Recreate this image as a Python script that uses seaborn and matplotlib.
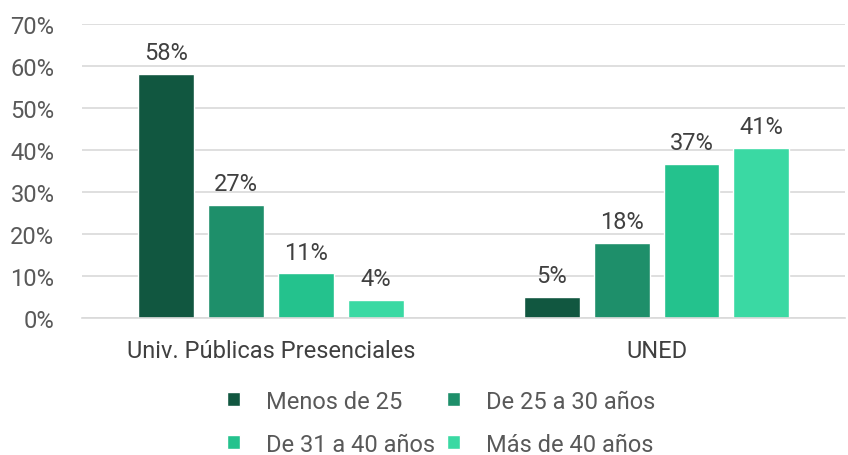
import pandas as pd
import matplotlib
matplotlib.use('Agg')
import matplotlib.pyplot as plt
import seaborn as sns

categorias = ['Univ. Públicas Presenciales', 'UNED']
edades = ['Menos de 25', 'De 25 a 30 años', 'De 31 a 40 años', 'Más de 40 años']
valores_univ = [0.581, 0.269, 0.107, 0.043]
valores_uned = [0.050, 0.179, 0.367, 0.406]
colores = ['#115740', '#1e8f6a', '#24c28d', '#3ad9a3']

data = pd.DataFrame({
    'categoria': [categorias[0]] * 4 + [categorias[1]] * 4,
    'edad': edades * 2,
    'valor': valores_univ + valores_uned,
})

sns.set_style('white')
plt.rcParams['font.family'] = ['Roboto', 'DejaVu Sans']

fig = plt.figure(figsize=(8.48, 4.56), dpi=100)
ax = fig.add_axes([0.097, 0.30, 0.9, 0.645])

sns.barplot(data=data, x='categoria', y='valor', hue='edad', hue_order=edades,
            palette=colores, saturation=1, width=0.725, gap=0.2, ax=ax, legend=True)

for cont in ax.containers:
    ax.bar_label(cont, labels=[f'{round(b.get_height() * 100):.0f}%' for b in cont],
                 padding=7, fontsize=17, color='#404040')

ax.set_ylim(0, 0.7)
ax.set_xlim(-0.49, 1.49)
ax.set_yticks([i / 10 for i in range(8)])
ax.set_yticklabels([f'{i * 10}%' for i in range(8)])
ax.yaxis.grid(True, color='#d9d9d9', linewidth=1.2)
ax.set_axisbelow(True)
for s in ['top', 'right', 'left']:
    ax.spines[s].set_visible(False)
ax.spines['bottom'].set_color('#d9d9d9')
ax.spines['bottom'].set_linewidth(1.2)
ax.tick_params(axis='y', labelsize=17, labelcolor='#595959', length=0, pad=20)
ax.tick_params(axis='x', labelsize=17, labelcolor='#404040', length=0, pad=15)
ax.set_xlabel('')
ax.set_ylabel('')

handles, labels = ax.get_legend_handles_labels()
ax.get_legend().remove()
orden = [0, 2, 1, 3]
fig.legend([handles[i] for i in orden], [labels[i] for i in orden],
           loc='center', bbox_to_anchor=(0.52, 0.071), ncol=2,
           frameon=False, fontsize=17, labelcolor='#595959',
           handlelength=0.55, handleheight=0.55, handletextpad=1.1,
           columnspacing=0.5, labelspacing=0.85)

fig.savefig('out.png', dpi=100)
